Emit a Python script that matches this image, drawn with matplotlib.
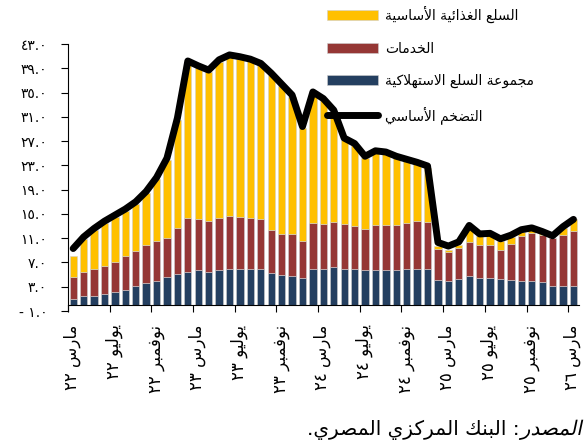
import numpy as np
import matplotlib
matplotlib.use("Agg")
import matplotlib.pyplot as plt
from matplotlib.textpath import TextPath
from matplotlib.patches import PathPatch
from matplotlib.font_manager import FontProperties
from matplotlib.transforms import Affine2D

plt.rcParams["font.family"] = ["DejaVu Sans"]

# monthly contributions, Mar 2022 .. Mar 2026 (percentage points)
goods = [1.0, 1.4, 1.5, 1.8, 2.2, 2.5, 3.1, 3.6, 4.0, 4.6, 5.1, 5.5, 5.7, 5.5, 5.8, 5.9, 5.9,
         6.0, 5.9, 5.3, 4.9, 4.8, 4.5, 5.9, 5.9, 6.2, 5.9, 5.9, 5.7, 5.7, 5.8, 5.8, 5.9, 5.9,
         6.0, 4.1, 3.9, 4.2, 4.7, 4.5, 4.4, 4.2, 4.1, 3.9, 3.9, 3.7, 3.2, 3.2, 3.2]
services = [3.6, 4.1, 4.4, 4.6, 4.9, 5.5, 5.8, 6.2, 6.5, 6.5, 7.5, 8.9, 8.5, 8.3, 8.6, 8.8, 8.6,
            8.4, 8.2, 7.1, 6.8, 6.9, 6.1, 7.6, 7.4, 7.5, 7.4, 7.1, 6.8, 7.5, 7.4, 7.4, 7.6, 7.9,
            7.6, 5.1, 4.8, 5.2, 5.6, 5.4, 5.5, 4.9, 5.9, 7.5, 8.0, 7.8, 7.8, 8.4, 9.0]
food = [3.4, 5.4, 6.4, 7.1, 7.4, 7.5, 7.8, 8.6, 10.2, 12.8, 17.9, 25.5, 24.9, 24.6, 25.7, 26.2,
        26.1, 25.8, 25.4, 25.5, 24.4, 22.6, 18.5, 21.3, 20.4, 18.1, 13.9, 13.3, 11.7, 11.9, 11.7,
        11.0, 10.2, 9.4, 9.0, 0.5, 0.4, 0.5, 2.5, 1.5, 1.6, 1.5, 1.2, 0.7, 0.5, 0.3, 0.1, 1.0, 1.9]
core = [9.3, 11.2, 12.6, 13.8, 14.8, 15.8, 17.0, 18.7, 21.0, 24.2, 30.8, 40.2, 39.4, 38.7, 40.4,
        41.2, 40.9, 40.5, 39.8, 38.2, 36.4, 34.6, 29.4, 35.1, 34.0, 32.1, 27.5, 26.6, 24.5, 25.4,
        25.2, 24.5, 24.0, 23.5, 22.9, 10.3, 9.7, 10.4, 13.1, 11.7, 11.8, 10.9, 11.5, 12.4, 12.7,
        12.1, 11.4, 12.9, 14.1]

tick_labels = ["مارس ٢٢", "يوليو ٢٢", "نوفمبر ٢٢", "مارس ٢٣", "يوليو ٢٣", "نوفمبر ٢٣", "مارس ٢٤",
               "يوليو ٢٤", "نوفمبر ٢٤", "مارس ٢٥", "يوليو ٢٥", "نوفمبر ٢٥", "مارس ٢٦"]
yticks = [-1, 3, 7, 11, 15, 19, 23, 27, 31, 35, 39, 43]
legend_labels = ["السلع الغذائية الأساسية", "الخدمات", "مجموعة السلع الاستهلاكية", "التضخم الأساسي"]
source_head = "المصدر"
source_rest = ": البنك المركزي المصري."

# minimal Arabic shaping + right-to-left ordering (matplotlib has no complex text layout)
FORMS = {
    "ا": (0xFE8D, False), "أ": (0xFE83, False), "ب": (0xFE8F, True), "ت": (0xFE95, True),
    "ة": (0xFE93, False), "ج": (0xFE9D, True), "خ": (0xFEA5, True), "د": (0xFEA9, False),
    "ذ": (0xFEAB, False), "ر": (0xFEAD, False), "ز": (0xFEAF, False), "س": (0xFEB1, True),
    "ص": (0xFEB9, True), "ض": (0xFEBD, True), "ع": (0xFEC9, True), "غ": (0xFECD, True),
    "ف": (0xFED1, True), "ك": (0xFED9, True), "ل": (0xFEDD, True), "م": (0xFEE1, True),
    "ن": (0xFEE5, True), "ه": (0xFEE9, True), "و": (0xFEED, False), "ي": (0xFEF1, True),
    "ئ": (0xFE89, True),
}
LAM_ALEF = {"ا": 0xFEFB, "أ": 0xFEF7}


def shape_run(run):
    toks, i = [], 0
    while i < len(run):
        if run[i] == "ل" and i + 1 < len(run) and run[i + 1] in LAM_ALEF:
            toks.append((LAM_ALEF[run[i + 1]], False))
            i += 2
        else:
            toks.append(FORMS[run[i]])
            i += 1
    out = []
    for k, (base, dual) in enumerate(toks):
        prev = k > 0 and toks[k - 1][1]
        nxt = dual and k + 1 < len(toks)
        off = 3 if (prev and nxt) else 1 if prev else 2 if nxt else 0
        out.append(chr(base + off))
    return "".join(reversed(out))


def ar(text):
    toks, cur, kind = [], "", None
    for c in text:
        k = "a" if c in FORMS else "d" if c.isdigit() else "n"
        if k == kind and k != "n":
            cur += c
        else:
            if cur:
                toks.append((kind, cur))
            cur, kind = c, k
    toks.append((kind, cur))
    return "".join(reversed([shape_run(t) if k == "a" else t for k, t in toks]))


def ar_num(v):
    s = f"{abs(v):.1f}".translate(str.maketrans("0123456789", "٠١٢٣٤٥٦٧٨٩"))
    return ("- " + s) if v < 0 else s


C_FOOD, C_SERV, C_GOODS = "#FFC000", "#953735", "#243F60"

x = np.arange(len(core))
goods = np.array(goods)
services = np.array(services)
food = np.array(food)

fig = plt.figure(figsize=(5.87, 4.44), dpi=100)
ax = fig.add_axes([0.1158, 0.2995, 0.870, 0.6014])

w = 0.7
ec = dict(edgecolor="#cfcfcf", linewidth=0.4)
b1 = ax.bar(x, goods, w, color=C_GOODS, **ec)
b2 = ax.bar(x, services, w, bottom=goods, color=C_SERV, **ec)
b3 = ax.bar(x, food, w, bottom=goods + services, color=C_FOOD, **ec)
ln, = ax.plot(x, core, color="black", lw=5, solid_joinstyle="round", solid_capstyle="round", zorder=5)

ax.set_xlim(-0.5, len(core) - 0.5)
ax.set_ylim(-1, 43)
ax.set_yticks(yticks)
ax.set_yticklabels([ar_num(v) for v in yticks])
ax.tick_params(axis="y", direction="out", length=5, width=0.8, pad=10, labelsize=10)

# tick marks on month boundaries, labels under the bars
ax.set_xticks(np.arange(0, len(core), 4) - 0.5)
ax.set_xticklabels([])
ax.tick_params(axis="x", which="major", direction="out", length=5, width=0.8)
ax.set_xticks(np.arange(0, len(core), 4) - 0.1, minor=True)
ax.set_xticklabels([ar(t) for t in tick_labels], minor=True)
ax.tick_params(axis="x", which="minor", length=0, pad=14, labelsize=12, labelrotation=90)

for s in ["top", "right"]:
    ax.spines[s].set_visible(False)
ax.spines["bottom"].set_position(("data", 0))
for s in ["left", "bottom"]:
    ax.spines[s].set_linewidth(0.8)

fig.legend([b3, b2, b1, ln], [ar(t) for t in legend_labels], loc="upper left",
           bbox_to_anchor=(327 / 587, 1 - 6 / 444), frameon=False, fontsize=10,
           handlelength=3.7, handleheight=0.75, handletextpad=0.5, labelspacing=1.32,
           borderpad=0, borderaxespad=0)

# source line: italic first word at the right, rest to its left
fs = 14.5
px = fig.dpi / 72
fp = FontProperties(family="DejaVu Sans", size=fs)
head = TextPath((0, 0), ar(source_head), prop=fp)
head_w = head.get_extents().x1 * px
right_px, base_px = 580, 9
tr = Affine2D().skew_deg(12, 0).scale(px).translate(right_px - head_w, base_px)
fig.add_artist(PathPatch(head, transform=tr, facecolor="black", edgecolor="none"))
fig.text((right_px - head_w - 1) / 587, base_px / 444, ar(source_rest),
         ha="right", va="baseline", fontsize=fs)

fig.savefig("out.png", dpi=100)
